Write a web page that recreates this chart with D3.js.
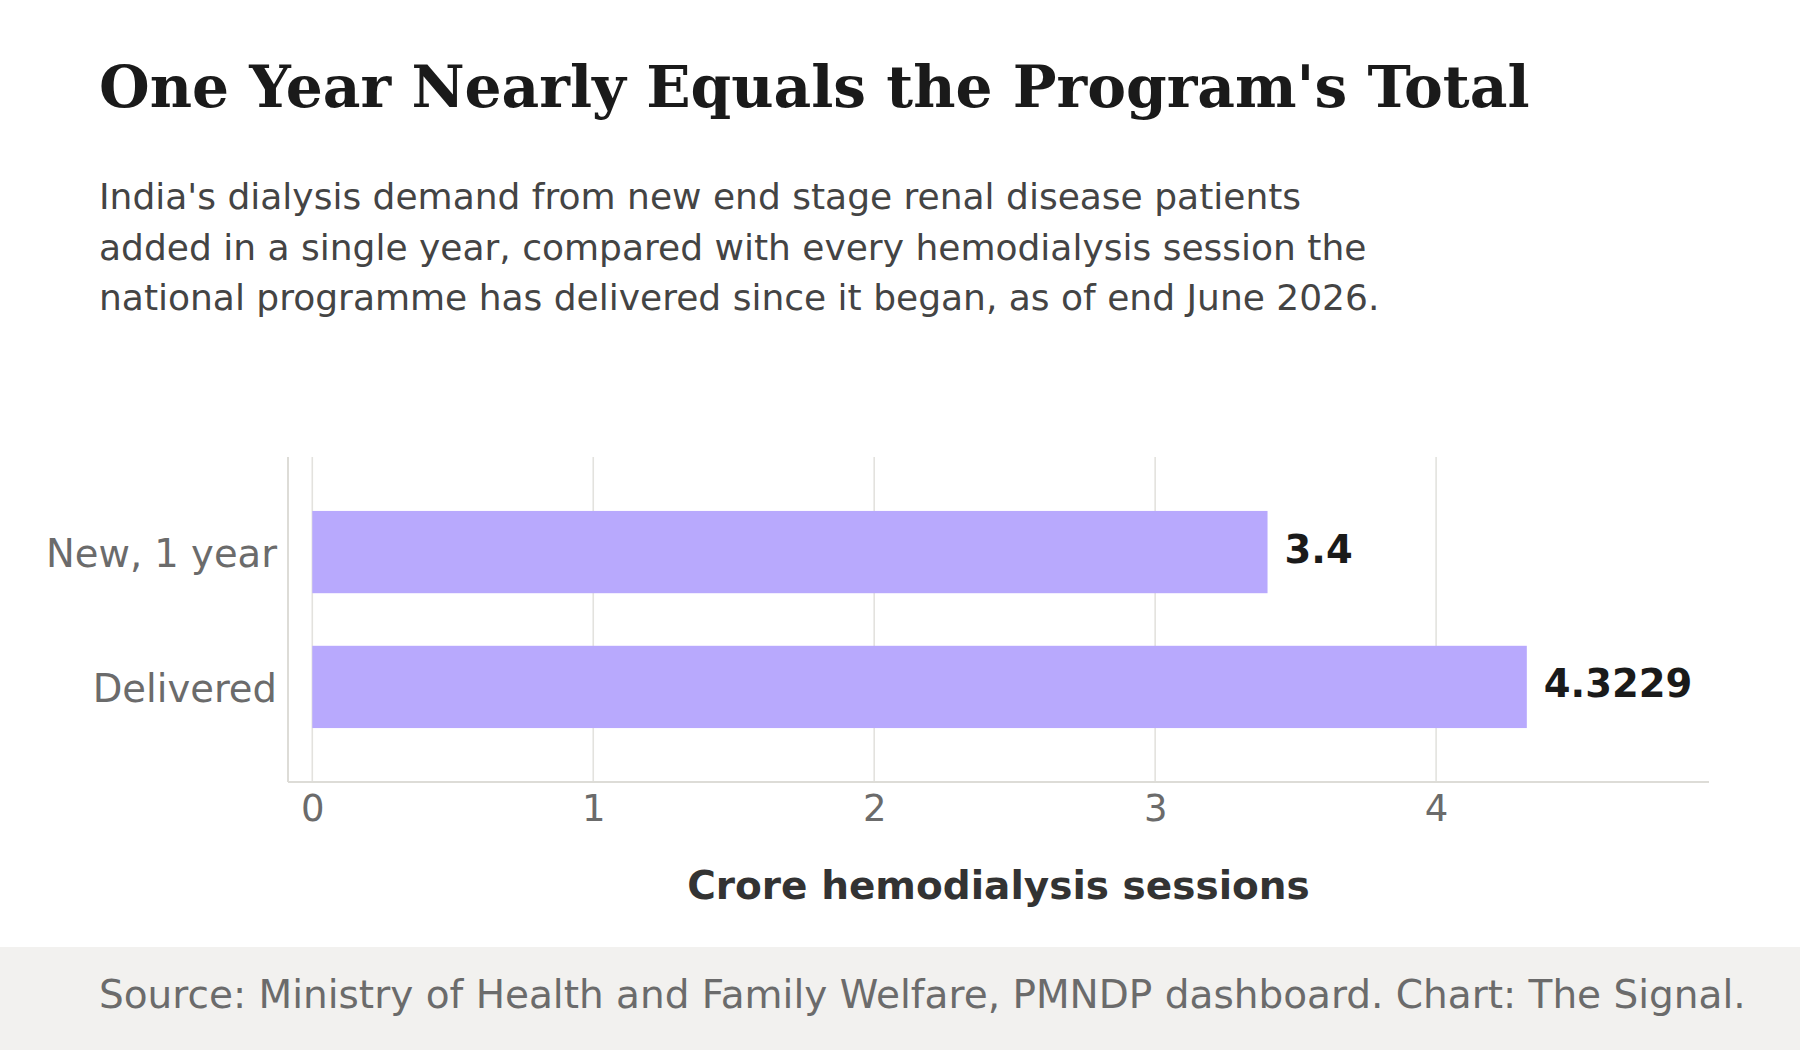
<!DOCTYPE html>
<html>
<head>
<meta charset="utf-8">
<script src="https://cdn.jsdelivr.net/npm/d3@7/dist/d3.min.js"></script>
<style>
  html, body { margin: 0; padding: 0; background: #ffffff; }
  svg { display: block; }
</style>
</head>
<body>
<svg id="chart" width="1800" height="1050"></svg>
<script>
// ---- Data ----
const categories = ["New, 1 year", "Delivered"];
const values = [3.4, 4.3229];
const valueLabels = ["3.4", "4.3229"];
const xTicks = [0, 1, 2, 3, 4];

const titleText = "One Year Nearly Equals the Program's Total";
const subtitleLines = [
  "India's dialysis demand from new end stage renal disease patients",
  "added in a single year, compared with every hemodialysis session the",
  "national programme has delivered since it began, as of end June 2026."
];
const xAxisTitle = "Crore hemodialysis sessions";
const sourceText = "Source: Ministry of Health and Family Welfare, PMNDP dashboard. Chart: The Signal.";

// ---- Layout ----
const W = 1800, H = 1050;
const plot = { left: 288, right: 1709, top: 457, bottom: 782 };
const svg = d3.select("#chart");

svg.append("rect").attr("x", 0).attr("y", 0).attr("width", W).attr("height", H).attr("fill", "#ffffff");

// Title
svg.append("text")
  .attr("x", 99).attr("y", 107)
  .attr("font-family", "'DejaVu Serif', serif")
  .attr("font-weight", "bold")
  .attr("font-size", 58.2)
  .attr("fill", "#1a1a1a")
  .text(titleText);

// Subtitle
svg.append("g").selectAll("text")
  .data(subtitleLines)
  .join("text")
  .attr("x", 99)
  .attr("y", (d, i) => 209 + i * 50.5)
  .attr("font-family", "'DejaVu Sans', sans-serif")
  .attr("font-size", 36)
  .attr("fill", "#444444")
  .text(d => d);

// Scales
const maxV = d3.max(values);
const x = d3.scaleLinear()
  .domain([-0.02 * maxV, 1.15 * maxV])
  .range([plot.left, plot.right]);

const y = d3.scaleBand()
  .domain(categories)
  .range([plot.top, plot.bottom])
  .paddingInner(0.39)
  .paddingOuter(0.4);

// Gridlines
svg.append("g").selectAll("line")
  .data(xTicks)
  .join("line")
  .attr("x1", d => x(d)).attr("x2", d => x(d))
  .attr("y1", plot.top).attr("y2", plot.bottom)
  .attr("stroke", "#e3e2de")
  .attr("stroke-width", 1.6);

// Bars
svg.append("g").selectAll("rect")
  .data(categories)
  .join("rect")
  .attr("x", x(0))
  .attr("y", d => y(d))
  .attr("width", (d, i) => x(values[i]) - x(0))
  .attr("height", y.bandwidth())
  .attr("fill", "#b8a9fd");

// Value labels
svg.append("g").selectAll("text")
  .data(categories)
  .join("text")
  .attr("x", (d, i) => x(values[i]) + 17)
  .attr("y", d => y(d) + y.bandwidth() / 2 + 10.5)
  .attr("font-family", "'DejaVu Sans', sans-serif")
  .attr("font-weight", "bold")
  .attr("font-size", 38.5)
  .attr("fill", "#1a1a1a")
  .text((d, i) => valueLabels[i]);

// Axes spines
svg.append("line")
  .attr("x1", plot.left).attr("x2", plot.left)
  .attr("y1", plot.top).attr("y2", plot.bottom)
  .attr("stroke", "#dddcd7").attr("stroke-width", 2);
svg.append("line")
  .attr("x1", plot.left).attr("x2", plot.right)
  .attr("y1", plot.bottom).attr("y2", plot.bottom)
  .attr("stroke", "#dddcd7").attr("stroke-width", 2);

// X axis tick labels via d3 axis
const xAxis = d3.axisBottom(x).tickValues(xTicks).tickFormat(d3.format("d")).tickSize(0).tickPadding(0);
const gx = svg.append("g").attr("transform", `translate(0,${plot.bottom})`).call(xAxis);
gx.select(".domain").remove();
gx.selectAll("text")
  .attr("dy", null)
  .attr("y", 39)
  .attr("font-family", "'DejaVu Sans', sans-serif")
  .attr("font-size", 37)
  .attr("fill", "#6b6b6b");

// Y axis labels via d3 axis
const yAxis = d3.axisLeft(y).tickSize(0).tickPadding(0);
const gy = svg.append("g").attr("transform", `translate(${plot.left - 11},0)`).call(yAxis);
gy.select(".domain").remove();
gy.selectAll("text")
  .attr("dy", "0.38em")
  .attr("x", 0)
  .attr("font-family", "'DejaVu Sans', sans-serif")
  .attr("font-size", 38.5)
  .attr("fill", "#6b6b6b");

// X axis title
svg.append("text")
  .attr("x", (plot.left + plot.right) / 2)
  .attr("y", 899)
  .attr("text-anchor", "middle")
  .attr("font-family", "'DejaVu Sans', sans-serif")
  .attr("font-weight", "bold")
  .attr("font-size", 39)
  .attr("fill", "#333333")
  .text(xAxisTitle);

// Footer
svg.append("rect")
  .attr("x", 0).attr("y", 947).attr("width", W).attr("height", H - 947)
  .attr("fill", "#f2f1ef");
svg.append("text")
  .attr("x", 99).attr("y", 1008)
  .attr("font-family", "'DejaVu Sans', sans-serif")
  .attr("font-size", 39)
  .attr("fill", "#6b6b6b")
  .text(sourceText);
</script>
</body>
</html>
